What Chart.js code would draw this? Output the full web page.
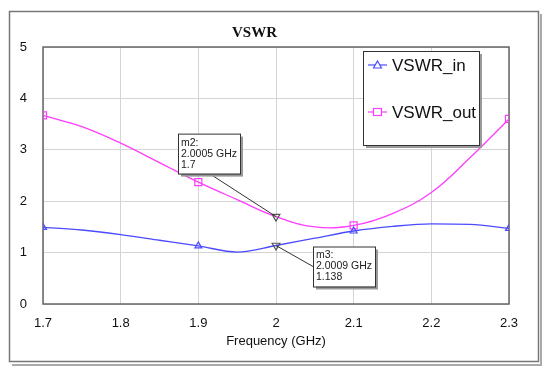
<!DOCTYPE html>
<html>
<head>
<meta charset="utf-8">
<script src="https://cdn.jsdelivr.net/npm/chart.js@4"></script>
<style>
  html, body { margin: 0; padding: 0; background: #fff; }
  #wrap { width: 550px; height: 378px; }
</style>
</head>
<body>
<div id="wrap"><canvas id="vswrChart" width="550" height="378"></canvas></div>
<script>
// data
const freq = [1.7, 1.75, 1.8, 1.85, 1.9, 1.95, 2.0, 2.05, 2.1, 2.15, 2.2, 2.25, 2.3];
const vswrIn = [1.49, 1.44, 1.35, 1.24, 1.13, 1.01, 1.138, 1.28, 1.42, 1.51, 1.56, 1.55, 1.47];
const vswrOut = [3.67, 3.45, 3.13, 2.75, 2.37, 2.03, 1.7, 1.5, 1.53, 1.76, 2.17, 2.85, 3.6];
const markerFreqs = [1.7, 1.9, 2.1, 2.3];
const xTicks = [1.7, 1.8, 1.9, 2.0, 2.1, 2.2, 2.3];
const yTicks = [0, 1, 2, 3, 4, 5];
const markers = [
  { name: 'm2', freqText: '2.0005 GHz', valueText: '1.7', x: 2.0, y: 1.7 },
  { name: 'm3', freqText: '2.0009 GHz', valueText: '1.138', x: 2.0, y: 1.138 }
];

const BLUE = '#4b4bff';
const PINK = '#ff3cff';
const MARK = '#555';
const FONT = 'Arial, "Liberation Sans", sans-serif';

function pts(vals) {
  return freq.map((f, i) => ({ x: f, y: vals[i] }));
}
function isMarker(i) { return markerFreqs.some(f => Math.abs(f - freq[i]) < 1e-6); }
function isM(i) { return markers.some(m => Math.abs(m.x - freq[i]) < 1e-6); }

function seriesStyle(color, style, size) {
  return {
    pointStyle: freq.map((f, i) => isM(i) ? 'triangle' : style),
    pointRotation: freq.map((f, i) => isM(i) ? 180 : 0),
    pointRadius: freq.map((f, i) => isM(i) ? 4.5 : (isMarker(i) ? size : 0)),
    pointBorderColor: freq.map((f, i) => isM(i) ? MARK : color),
    pointBackgroundColor: 'rgba(255,255,255,0)',
    pointBorderWidth: 1.2
  };
}

// frame, plot border, marker boxes, legend
const decor = {
  id: 'decor',
  beforeDraw(chart) {
    const c = chart.ctx;
    c.save();
    c.fillStyle = '#fff';
    c.fillRect(0, 0, chart.width, chart.height);
    // shadow
    c.strokeStyle = '#aaa';
    c.lineWidth = 2;
    c.beginPath();
    c.moveTo(541, 14); c.lineTo(541, 365); c.lineTo(12, 365);
    c.stroke();
    c.strokeStyle = '#777';
    c.lineWidth = 1.5;
    c.strokeRect(9.5, 11.5, 529, 350);
    c.restore();
  },
  beforeDatasetsDraw(chart) {
    const a = chart.chartArea, c = chart.ctx;
    c.save();
    c.strokeStyle = '#666';
    c.lineWidth = 1.5;
    c.strokeRect(a.left, a.top, a.right - a.left, a.bottom - a.top);
    c.restore();
  },
  afterDatasetsDraw(chart) {
    const c = chart.ctx, xs = chart.scales.x, ys = chart.scales.y;
    const a = chart.chartArea;
    // marker callouts: box offsets in pixels from the marker
    const offs = { m2: { dx: -98, dy: -83, lx: -65, ly: -42 }, m3: { dx: 37, dy: 1, lx: 37, ly: 21 } };
    c.save();
    markers.forEach(m => {
      const px = xs.getPixelForValue(m.x), py = ys.getPixelForValue(m.y);
      const o = offs[m.name];
      const bx = px + o.dx, by = py + o.dy, bw = 62, bh = 40;
      c.strokeStyle = '#333';
      c.lineWidth = 1;
      c.beginPath();
      c.moveTo(px, py);
      c.lineTo(px + o.lx, py + o.ly);
      c.stroke();
      c.fillStyle = '#999';
      c.fillRect(bx + 3, by + 3, bw, bh);
      c.fillStyle = '#fff';
      c.fillRect(bx, by, bw, bh);
      c.strokeStyle = '#333';
      c.strokeRect(bx + 0.5, by + 0.5, bw, bh);
      c.fillStyle = '#222';
      c.font = '10.5px ' + FONT;
      c.textBaseline = 'middle';
      c.fillText(m.name + ':', bx + 3, by + 9);
      c.fillText(m.freqText, bx + 3, by + 20);
      c.fillText(m.valueText, bx + 3, by + 31);
    });
    // legend box
    const lx = a.right - 146, ly = a.top + 4, lw = 116, lh = 94;
    c.fillStyle = '#999';
    c.fillRect(lx + 3, ly + 3, lw, lh);
    c.fillStyle = '#fff';
    c.fillRect(lx, ly, lw, lh);
    c.strokeStyle = '#333';
    c.lineWidth = 1;
    c.strokeRect(lx + 0.5, ly + 0.5, lw, lh);
    chart.data.datasets.forEach((d, k) => {
      const yy = ly + 14 + k * 47;
      c.strokeStyle = d.borderColor;
      c.lineWidth = 1.2;
      c.beginPath();
      c.moveTo(lx + 5, yy); c.lineTo(lx + 24, yy);
      c.stroke();
      if (k === 0) {
        c.beginPath();
        c.moveTo(lx + 14.5, yy - 4); c.lineTo(lx + 18.5, yy + 3); c.lineTo(lx + 10.5, yy + 3); c.closePath();
        c.fillStyle = '#fff'; c.fill(); c.stroke();
      } else {
        c.fillStyle = '#fff';
        c.fillRect(lx + 10.5, yy - 3.5, 8, 7);
        c.strokeRect(lx + 10.5, yy - 3.5, 8, 7);
      }
      c.fillStyle = '#111';
      c.font = '17px ' + FONT;
      c.textBaseline = 'middle';
      c.fillText(d.label, lx + 29, yy + 1);
    });
    c.restore();
  }
};

new Chart(document.getElementById('vswrChart'), {
  type: 'scatter',
  data: {
    datasets: [
      Object.assign({
        label: 'VSWR_in',
        data: pts(vswrIn),
        showLine: true,
        borderColor: BLUE,
        borderWidth: 1.3,
        cubicInterpolationMode: 'monotone'
      }, seriesStyle(BLUE, 'triangle', 4)),
      Object.assign({
        label: 'VSWR_out',
        data: pts(vswrOut),
        showLine: true,
        borderColor: PINK,
        borderWidth: 1.3,
        tension: 0.4
      }, seriesStyle(PINK, 'rect', 5))
    ]
  },
  options: {
    responsive: false,
    animation: false,
    layout: { padding: { top: 0, right: 41, bottom: 0, left: 0 } },
    plugins: {
      legend: { display: false },
      tooltip: { enabled: false },
      title: {
        display: true,
        text: 'VSWR',
        color: '#111',
        font: { family: '"Liberation Serif", "Times New Roman", serif', size: 15, weight: 'bold' },
        padding: { top: 24, bottom: 5 }
      }
    },
    scales: {
      x: {
        type: 'linear',
        min: 1.7,
        max: 2.3,
        afterBuildTicks: s => { s.ticks = xTicks.map(v => ({ value: v })); },
        afterFit: s => { s.height = 74; },
        grid: { color: '#d4d4d4', drawTicks: false, tickLength: 0 },
        border: { display: false },
        ticks: {
          color: '#111',
          padding: 12,
          maxRotation: 0,
          font: { family: FONT, size: 13 },
          callback: v => String(Number(v.toFixed(2)))
        },
        title: {
          display: true,
          text: 'Frequency (GHz)',
          color: '#111',
          font: { family: FONT, size: 13 },
          padding: { top: 0, bottom: 29 }
        }
      },
      y: {
        min: 0,
        max: 5,
        afterBuildTicks: s => { s.ticks = yTicks.map(v => ({ value: v })); },
        afterFit: s => { s.width = 43; },
        grid: { color: '#d4d4d4', drawTicks: false, tickLength: 0 },
        border: { display: false },
        ticks: {
          color: '#111',
          padding: 16,
          font: { family: FONT, size: 13 }
        }
      }
    }
  },
  plugins: [decor]
});
</script>
</body>
</html>
